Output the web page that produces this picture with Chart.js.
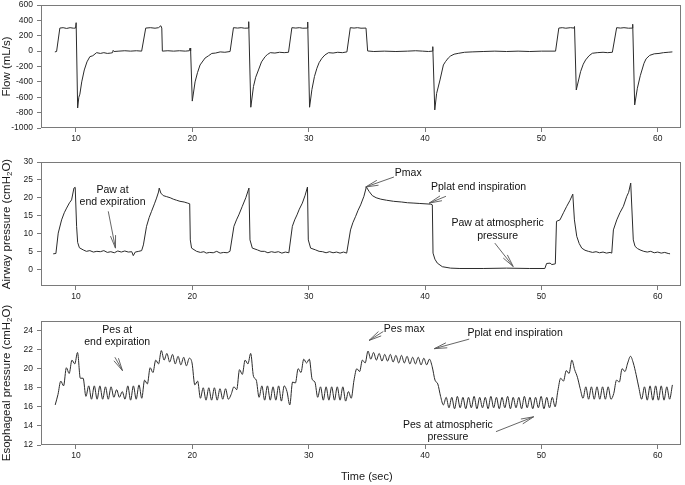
<!DOCTYPE html>
<html>
<head>
<meta charset="utf-8">
<script src="https://cdn.jsdelivr.net/npm/chart.js@4.4.0/dist/chart.umd.min.js"></script>
<style>
  body { margin: 0; background: #fff; }
  #wrap { position: relative; width: 685px; height: 485px; }
  canvas { position: absolute; left: 0; }
</style>
</head>
<body>
<div id="wrap">
  <canvas id="flowChart" width="685" height="148" style="top:0px"></canvas>
  <canvas id="pawChart" width="685" height="155" style="top:148px"></canvas>
  <canvas id="pesChart" width="685" height="182" style="top:303px"></canvas>
</div>
<script>
// ---- data read from the recording ----
var timeTicks = [10, 20, 30, 40, 50, 60];
var flowTicks = [-1000, -800, -600, -400, -200, 0, 200, 400, 600];
var pawTicks = [0, 5, 10, 15, 20, 25, 30];
var pesTicks = [12, 14, 16, 18, 20, 22, 24];

// flow (mL/s)
var flowT = [
  8.19, 8.34, 8.62, 8.9, 9.2, 9.5, 9.8, 9.97, 10.02, 10.15,
  10.25, 10.34, 10.5, 10.72, 10.95, 11.2, 11.45, 11.78, 12.1, 12.4,
  12.7, 13.0, 13.15, 13.2, 13.28, 13.7, 14.2, 14.7, 15.2, 15.65,
  16.0, 16.4, 16.8, 17.1, 17.3, 17.38, 17.43, 17.9, 18.4, 18.9,
  19.4, 19.75, 19.81, 19.86, 20.0, 20.24, 20.45, 20.67, 21.1, 21.4,
  21.68, 22.0, 22.4, 22.8, 23.25, 23.54, 23.9, 24.2, 24.5, 24.8,
  24.85, 25.03, 25.26, 25.45, 25.69, 25.95, 26.26, 26.45, 26.7, 27.1,
  27.5, 27.9, 28.27, 28.56, 28.9, 29.2, 29.5, 29.88, 29.92, 30.08,
  30.28, 30.5, 30.71, 30.9, 31.14, 31.4, 31.71, 32.1, 32.5, 32.9,
  33.29, 33.58, 33.9, 34.2, 34.5, 34.93, 35.07, 35.6, 36.5, 37.5,
  38.5, 39.2, 39.8, 40.3, 40.62, 40.67, 40.84, 41.0, 41.29, 41.58,
  41.76, 42.0, 42.2, 42.5, 42.9, 43.4, 44.05, 45.0, 46.0, 47.0,
  48.0, 49.0, 50.0, 51.22, 51.5, 51.8, 52.1, 52.5, 52.8, 52.85,
  53.0, 53.37, 53.6, 53.8, 54.1, 54.38, 54.8, 55.3, 55.7, 56.1,
  56.47, 56.8, 57.1, 57.5, 57.82, 57.85, 58.02, 58.25, 58.5, 58.82,
  59.0, 59.31, 59.7, 60.11, 60.5, 60.9, 61.26
];
var flowV = [
  -10, -5, 300, 305, 295, 305, 298, 300, 370, -740,
  -600, -560, -400, -245, -140, -72, -60, -20, -30, -20,
  -30, -25, -20, 10, -5, 0, 5, 0, 5, 0,
  300, 305, 298, 305, 330, 300, 0, 5, 0, 5,
  0, 5, 40, 0, -650, -400, -280, -180, -90, -60,
  -30, -25, -10, -15, -5, 305, 300, 305, 298, 300,
  383, -730, -460, -340, -245, -140, -72, -45, -20, -25,
  -15, -20, -15, 305, 300, 305, 298, 300, 379, -730,
  -500, -330, -223, -150, -93, -50, -20, -25, -15, -20,
  -10, 305, 300, 305, 298, 300, 2, -5, 0, -5,
  0, 5, 0, -5, 0, 58, -765, -550, -375, -180,
  -137, -90, -63, -40, -28, -15, -10, -5, 0, -5,
  0, -5, 0, 0, 300, 305, 298, 305, 300, 320,
  -505, -267, -170, -115, -60, -28, -20, -15, -20, -15,
  305, 300, 305, 298, 300, 350, -700, -483, -320, -158,
  -100, -55, -35, -30, -20, -15, -10
];

// airway pressure (cmH2O)
var pawT = [
  8.05, 8.28, 8.48, 8.77, 9.0, 9.2, 9.45, 9.63, 9.83, 9.94,
  10.06, 10.15, 10.3, 10.63, 10.9, 11.2, 11.5, 11.8, 12.1, 12.4,
  12.7, 13.0, 13.3, 13.6, 13.9, 14.2, 14.5, 14.8, 14.93, 15.1,
  15.4, 15.65, 15.8, 16.07, 16.3, 16.5, 16.75, 16.93, 17.1, 17.16,
  17.3, 17.5, 17.8, 18.1, 18.37, 18.65, 18.94, 19.3, 19.6, 19.78,
  19.83, 19.94, 20.37, 20.7, 21.0, 21.2, 21.5, 21.8, 22.1, 22.4,
  22.7, 23.0, 23.24, 23.58, 23.8, 24.0, 24.3, 24.6, 24.87, 24.96,
  25.16, 25.6, 25.9, 26.2, 26.5, 26.8, 27.1, 27.4, 27.7, 28.0,
  28.3, 28.6, 28.8, 29.0, 29.2, 29.46, 29.7, 29.9, 29.97, 30.17,
  30.6, 30.9, 31.2, 31.5, 31.8, 32.1, 32.4, 32.7, 33.0, 33.27,
  33.6, 33.8, 34.04, 34.25, 34.47, 34.75, 34.96, 35.19, 35.47, 35.8,
  36.2, 36.7, 37.3, 38.0, 38.5, 39.05, 39.5, 40.0, 40.5, 40.63,
  40.69, 40.85, 41.06, 41.49, 42.2, 43.0, 45.0, 47.0, 49.0, 50.3,
  50.45, 50.75, 50.9, 51.2, 51.3, 51.6, 51.9, 52.18, 52.45, 52.7,
  52.84, 53.04, 53.25, 53.47, 53.75, 54.04, 54.4, 54.7, 55.0, 55.3,
  55.6, 55.9, 56.05, 56.19, 56.48, 56.75, 57.05, 57.34, 57.5, 57.68,
  57.9, 58.05, 58.25, 58.48, 58.8, 59.1, 59.4, 59.7, 60.0, 60.3,
  60.6, 60.9, 61.06
];
var pawV = [
  4.3, 4.4, 10.1, 13.8, 15.8, 17.1, 18.6, 19.4, 22.7, 22.9,
  12.0, 7.5, 6.0, 5.4, 5.0, 5.2, 4.8, 5.0, 4.9, 5.2,
  4.7, 4.9, 4.6, 5.1, 4.8, 5.1, 4.8, 4.9, 3.8, 4.8,
  5.0, 5.2, 6.8, 12.0, 14.5, 16.2, 18.3, 19.9, 21.6, 22.7,
  21.3, 20.6, 20.3, 20.0, 19.6, 19.3, 19.0, 18.8, 18.5, 18.3,
  8.2, 5.9, 5.0, 4.7, 4.9, 4.5, 4.7, 4.6, 5.0, 4.5,
  4.7, 4.6, 5.0, 12.0, 13.8, 15.2, 17.6, 20.0, 22.7, 8.2,
  5.9, 5.4, 5.0, 5.0, 4.6, 4.9, 4.7, 4.9, 4.5, 4.8,
  4.6, 12.0, 13.8, 15.2, 16.8, 18.5, 20.7, 23.0, 8.2, 5.9,
  5.4, 5.0, 4.9, 4.6, 4.9, 4.6, 4.8, 4.5, 4.8, 4.5,
  11.0, 13.0, 14.8, 16.5, 18.0, 20.4, 23.0, 21.8, 20.6, 20.0,
  19.6, 19.3, 19.0, 18.8, 18.6, 18.5, 18.4, 18.3, 18.2, 18.0,
  4.5, 2.8, 1.7, 0.7, 0.3, 0.2, 0.2, 0.3, 0.2, 0.2,
  1.6, 1.7, 1.3, 1.5, 13.4, 13.8, 15.8, 17.6, 19.2, 21.0,
  13.8, 9.2, 7.2, 5.9, 5.3, 5.0, 4.7, 4.9, 4.6, 4.8,
  4.5, 4.7, 4.5, 11.0, 13.8, 15.8, 17.6, 20.4, 21.5, 24.1,
  8.2, 6.4, 5.8, 5.4, 5.0, 4.8, 5.0, 4.6, 4.8, 4.5,
  4.7, 4.4, 4.3
];

// esophageal pressure (cmH2O), sampled every 0.24 s from 8.22 s
var pesStart = 8.22;
var pesStep = 0.24;
var pesV = [
  16.2, 17.3, 18.7, 18.2, 20.1, 19.5, 20.9, 20.5, 21.7, 19.0,
  19.0, 17.1, 18.2, 16.8, 18.2, 16.8, 18.2, 16.8, 18.1, 16.8,
  18.1, 17.0, 17.8, 17.0, 17.6, 16.8, 18.2, 16.7, 18.2, 16.8,
  18.3, 16.9, 18.8, 18.4, 20.1, 19.6, 20.9, 20.5, 21.9, 20.9,
  21.6, 20.7, 21.5, 20.5, 21.3, 20.4, 21.2, 20.3, 21.1, 20.6,
  18.3, 18.7, 16.9, 18.0, 16.7, 18.0, 16.7, 18.0, 16.7, 17.9,
  16.8, 17.9, 16.8, 17.3, 18.1, 17.8, 19.9, 19.4, 20.9, 20.5,
  21.6, 19.2, 18.8, 17.0, 18.2, 16.7, 18.2, 16.7, 18.1, 16.7,
  18.2, 16.6, 18.2, 17.6, 16.2, 18.6, 18.5, 20.0, 19.6, 21.0,
  20.6, 21.0, 18.9, 18.6, 17.0, 18.1, 16.7, 18.1, 16.7, 18.1,
  16.7, 18.1, 16.7, 18.1, 16.6, 17.6, 16.9, 18.8, 20.0, 19.7,
  20.9, 20.6, 21.85, 21.0, 21.7, 20.9, 21.6, 20.8, 21.5, 20.8,
  21.5, 20.7, 21.4, 20.6, 21.4, 20.6, 21.3, 20.5, 21.2, 20.5,
  21.2, 20.4, 21.1, 20.4, 21.0, 20.2, 18.8, 18.4, 17.1, 16.2,
  17.0, 15.9, 17.0, 15.8, 17.1, 15.9, 17.0, 15.8, 17.0, 15.9,
  17.1, 15.8, 17.0, 15.9, 17.0, 15.8, 17.1, 15.9, 17.0, 15.8,
  17.0, 15.9, 17.1, 15.8, 17.0, 15.9, 17.0, 15.8, 17.1, 15.9,
  17.0, 15.8, 17.0, 15.9, 17.1, 15.8, 17.0, 15.9, 17.0, 16.0,
  17.7, 19.0, 18.7, 19.8, 19.5, 20.9, 19.9, 19.1, 17.9, 16.9,
  18.1, 16.8, 18.1, 16.8, 18.1, 16.8, 18.1, 16.8, 18.1, 16.8,
  17.4, 18.8, 18.6, 20.0, 19.7, 20.6, 21.3, 20.6, 19.4, 18.0,
  16.8, 18.1, 16.7, 18.2, 16.7, 18.2, 16.7, 18.2, 16.7, 18.1,
  16.8, 18.3
];

// annotations: [text, time, value] and arrows [t1, v1, t2, v2]
var pawNotes = [
  ['Paw at', 13.15, 22.2], ['end expiration', 13.15, 18.7],
  ['Pmax', 38.56, 26.9],
  ['Pplat end inspiration', 44.6, 22.9],
  ['Paw at atmospheric', 46.24, 12.9], ['pressure', 46.24, 9.35]
];
var pawArrows = [
  [12.78, 16.2, 13.4, 5.9],
  [37.33, 25.8, 34.9, 23.0],
  [41.8, 20.4, 40.36, 18.5],
  [46.0, 7.3, 47.58, 0.75]
];
var pesNotes = [
  ['Pes at', 13.55, 24.0], ['end expiration', 13.55, 22.8],
  ['Pes max', 38.22, 24.1],
  ['Pplat end inspiration', 47.75, 23.7],
  ['Pes at atmospheric', 41.97, 14.1], ['pressure', 41.97, 12.87]
];
var pesArrows = [
  [13.35, 21.2, 14.0, 19.8],
  [36.42, 23.9, 35.19, 22.96],
  [43.8, 23.1, 40.8, 22.1],
  [46.1, 13.4, 49.34, 14.96]
];

// ---- drawing ----
var FONT = "'Liberation Sans', Arial, Helvetica, sans-serif";
Chart.defaults.font.family = FONT;
Chart.defaults.color = '#1a1a1a';

function drawArrow(ctx, x1, y1, x2, y2) {
  var ang = Math.atan2(y2 - y1, x2 - x1), len = 13, spread = 0.2;
  ctx.beginPath();
  ctx.moveTo(x1, y1);
  ctx.lineTo(x2, y2);
  ctx.moveTo(x2 - len * Math.cos(ang - spread), y2 - len * Math.sin(ang - spread));
  ctx.lineTo(x2, y2);
  ctx.lineTo(x2 - len * Math.cos(ang + spread), y2 - len * Math.sin(ang + spread));
  ctx.stroke();
}

var notesPlugin = {
  id: 'notes',
  afterDraw: function(chart, args, o) {
    var ctx = chart.ctx, a = chart.chartArea;
    var xs = chart.scales.x, ys = chart.scales.y;
    ctx.save();

    // box round the plot
    ctx.strokeStyle = '#7a7a7a';
    ctx.lineWidth = 1;
    ctx.strokeRect(Math.round(a.left) + 0.5, Math.round(a.top) + 0.5,
                   Math.round(a.right - a.left) - 1, Math.round(a.bottom - a.top) - 1);

    // y title, with optional subscript parts
    ctx.save();
    ctx.translate(7, (a.top + a.bottom) / 2);
    ctx.rotate(-Math.PI / 2);
    ctx.fillStyle = '#1a1a1a';
    ctx.textBaseline = 'middle';
    var total = 0;
    o.yTitle.forEach(function(p) {
      ctx.font = (p[1] ? 8 : 11.5) + 'px ' + FONT;
      total += ctx.measureText(p[0]).width;
    });
    var cx = -total / 2;
    o.yTitle.forEach(function(p) {
      ctx.font = (p[1] ? 8 : 11.5) + 'px ' + FONT;
      ctx.textAlign = 'left';
      ctx.fillText(p[0], cx, p[1] ? 3 : 0);
      cx += ctx.measureText(p[0]).width;
    });
    ctx.restore();

    // annotation text
    ctx.font = '10.5px ' + FONT;
    ctx.fillStyle = '#111';
    ctx.textAlign = 'center';
    ctx.textBaseline = 'middle';
    (o.notes || []).forEach(function(n) {
      ctx.fillText(n[0], xs.getPixelForValue(n[1]), ys.getPixelForValue(n[2]));
    });

    ctx.strokeStyle = '#555';
    ctx.lineWidth = 0.9;
    (o.arrows || []).forEach(function(r) {
      drawArrow(ctx, xs.getPixelForValue(r[0]), ys.getPixelForValue(r[1]),
                xs.getPixelForValue(r[2]), ys.getPixelForValue(r[3]));
    });

    if (o.xTitle) {
      ctx.font = '11px ' + FONT;
      ctx.fillStyle = '#1a1a1a';
      ctx.fillText(o.xTitle[0], xs.getPixelForValue(o.xTitle[1]), a.bottom + 31.5);
    }
    ctx.restore();
  }
};

function plainLabel(v) { return String(v); }

function makePanel(id, cfg) {
  return new Chart(document.getElementById(id), {
    type: 'line',
    data: {
      datasets: [{
        data: cfg.points,
        borderColor: '#2b2b2b',
        borderWidth: 1,
        pointRadius: 0,
        fill: false,
        tension: cfg.smooth ? 0.4 : 0,
        cubicInterpolationMode: cfg.smooth ? 'monotone' : 'default'
      }]
    },
    options: {
      responsive: false,
      animation: false,
      events: [],
      layout: { padding: { top: cfg.top, right: 4, left: 0, bottom: 0 } },
      plugins: {
        legend: { display: false },
        tooltip: { enabled: false },
        notes: { yTitle: cfg.yTitle, notes: cfg.notes, arrows: cfg.arrows, xTitle: cfg.xTitle }
      },
      scales: {
        x: {
          type: 'linear', min: 7, max: 62,
          afterBuildTicks: function(s) { s.ticks = timeTicks.map(function(v) { return { value: v }; }); },
          afterFit: function(s) { s.height = cfg.xh; s.paddingLeft = 0; s.paddingRight = 0; },
          border: { display: false },
          grid: { drawOnChartArea: false, drawTicks: true, tickLength: 4, color: '#7a7a7a' },
          ticks: { font: { size: 8.5 }, padding: 2, maxRotation: 0, color: '#1a1a1a', callback: plainLabel }
        },
        y: {
          min: cfg.min, max: cfg.max,
          afterBuildTicks: function(s) { s.ticks = cfg.ticks.map(function(v) { return { value: v }; }); },
          afterFit: function(s) { s.width = 41; s.paddingTop = 0; s.paddingBottom = 0; },
          border: { display: false },
          grid: { drawOnChartArea: false, drawTicks: true, tickLength: 4, color: '#7a7a7a' },
          ticks: { font: { size: 8.5 }, padding: 4, color: '#1a1a1a', callback: plainLabel }
        }
      }
    },
    plugins: [notesPlugin]
  });
}

var flowPts = flowT.map(function(t, i) { return { x: t, y: flowV[i] }; });
var pawPts = pawT.map(function(t, i) { return { x: t, y: pawV[i] }; });
var pesPts = pesV.map(function(v, i) { return { x: pesStart + pesStep * i, y: v }; });

makePanel('flowChart', {
  points: flowPts, min: -1000, max: 600, ticks: flowTicks,
  top: 5, xh: 20,
  yTitle: [['Flow (mL/s)', false]]
});

makePanel('pawChart', {
  points: pawPts, min: -4.7, max: 30, ticks: pawTicks,
  top: 14, xh: 17,
  yTitle: [['Airway pressure (cmH', false], ['2', true], ['O)', false]],
  notes: pawNotes, arrows: pawArrows
});

makePanel('pesChart', {
  points: pesPts, min: 12, max: 25, ticks: pesTicks, smooth: true,
  top: 18, xh: 40,
  yTitle: [['Esophageal pressure (cmH', false], ['2', true], ['O)', false]],
  notes: pesNotes, arrows: pesArrows,
  xTitle: ['Time (sec)', 35]
});
</script>
</body>
</html>
